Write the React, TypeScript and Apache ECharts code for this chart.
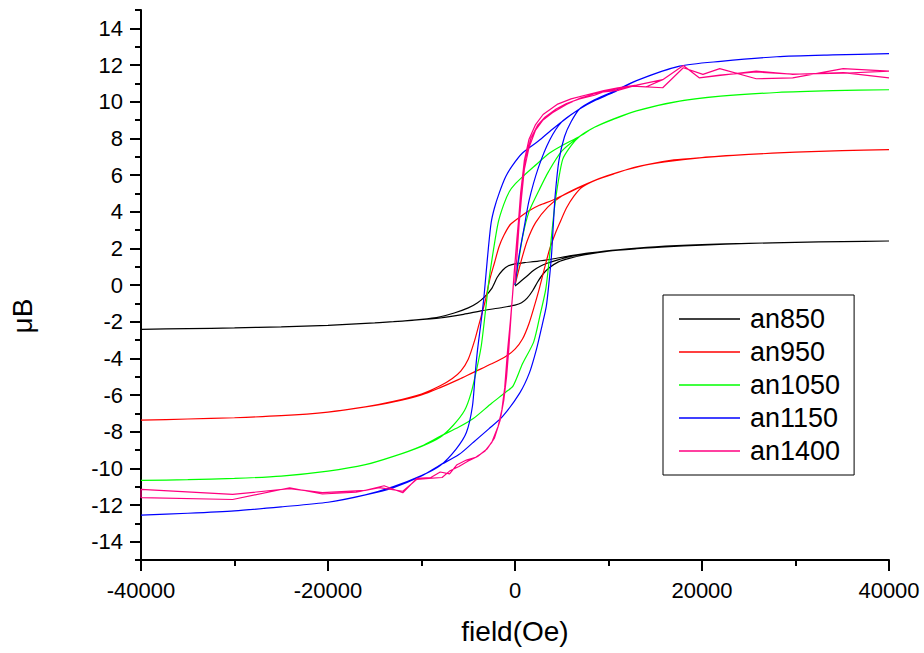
import React, { useEffect, useRef } from "react";
import * as echarts from "echarts";

// ---------- data (field in Oe, moment in μB) ----------
const seriesNames = ["an850", "an950", "an1050", "an1150", "an1400"];
const seriesColors = ["#000000", "#ff0000", "#00ff00", "#0000ff", "#ff0080"];

const xTickValues = [-40000, -20000, 0, 20000, 40000];
const yTickLabels = [-14, -12, -10, -8, -6, -4, -2, 0, 2, 4, 6, 8, 10, 12, 14];
const yMinorTicks = [-15, -13, -11, -9, -7, -5, -3, -1, 1, 3, 5, 7, 9, 11, 13, 15];

// an850
const an850Virgin: number[][] = [
  [0, -0.05], [500, 0.15], [1200, 0.45], [2000, 0.8], [2700, 1.02], [3500, 1.2], [4500, 1.36],
  [5500, 1.5], [7000, 1.65], [9000, 1.8], [12000, 1.95], [16000, 2.08], [20000, 2.18],
  [25000, 2.27], [30000, 2.33], [35000, 2.37], [40000, 2.4],
];
const an850Down: number[][] = [
  [40000, 2.4], [35000, 2.37], [30000, 2.33], [25000, 2.27], [20000, 2.2], [15000, 2.08],
  [11000, 1.92], [8000, 1.75], [6000, 1.6], [4000, 1.42], [2500, 1.3], [1000, 1.22], [0, 1.15],
  [-700, 1.05], [-1300, 0.82], [-1900, 0.42], [-2500, -0.2], [-3200, -0.62], [-4000, -0.97],
  [-5000, -1.25], [-6500, -1.53], [-8000, -1.73], [-10000, -1.87], [-13000, -2.0],
  [-16000, -2.1], [-20000, -2.2], [-25000, -2.28], [-30000, -2.34], [-35000, -2.38], [-40000, -2.42],
];
const an850Up: number[][] = [
  [-40000, -2.42], [-35000, -2.38], [-30000, -2.34], [-25000, -2.28], [-20000, -2.2],
  [-15000, -2.07], [-11000, -1.93], [-8000, -1.8], [-5500, -1.6], [-3500, -1.4], [-1500, -1.24],
  [0, -1.1], [700, -0.97], [1300, -0.72], [1900, -0.3], [2400, 0.15], [3000, 0.6], [3700, 0.95],
  [4600, 1.25], [5800, 1.45], [7500, 1.65], [10000, 1.85], [13000, 1.98], [16000, 2.08],
  [20000, 2.19], [25000, 2.27], [30000, 2.33], [35000, 2.37], [40000, 2.4],
];

// an950
const an950Virgin: number[][] = [
  [0, 0], [600, 1.2], [1300, 2.4], [2200, 3.4], [3500, 4.25], [5000, 4.85], [6700, 5.3],
  [8500, 5.7], [10500, 6.05], [13000, 6.45], [16000, 6.72], [20000, 6.95], [25000, 7.12],
  [30000, 7.25], [35000, 7.33], [40000, 7.38],
];
const an950Down: number[][] = [
  [40000, 7.38], [35000, 7.33], [30000, 7.25], [25000, 7.12], [20000, 6.95], [17000, 6.82],
  [14000, 6.55], [11000, 6.15], [9000, 5.8], [7000, 5.35], [5500, 4.98], [4000, 4.62],
  [2600, 4.35], [1500, 4.05], [500, 3.7], [-500, 3.3], [-1200, 2.7], [-1700, 2.1], [-2200, 1.2],
  [-2700, 0.3], [-3200, -0.9], [-3800, -2.05], [-4300, -3.0], [-5000, -4.05], [-5800, -4.7],
  [-6700, -5.1], [-8000, -5.5], [-10000, -5.95], [-13000, -6.35], [-16000, -6.65],
  [-20000, -6.93], [-25000, -7.13], [-30000, -7.24], [-35000, -7.31], [-40000, -7.37],
];
const an950Up: number[][] = [
  [-40000, -7.37], [-35000, -7.31], [-30000, -7.24], [-25000, -7.13], [-20000, -6.93],
  [-16000, -6.65], [-13000, -6.38], [-10000, -6.0], [-8000, -5.6], [-6000, -5.15],
  [-4500, -4.78], [-2500, -4.3], [-1000, -3.9], [0, -3.5], [800, -2.95], [1500, -2.1],
  [2100, -1.1], [2600, -0.2], [3200, 1.0], [3700, 1.95], [4300, 2.8], [4800, 3.4], [5500, 4.2],
  [6300, 4.85], [7200, 5.35], [9000, 5.8], [11000, 6.15], [14000, 6.55], [17000, 6.82],
  [20000, 6.95], [25000, 7.12], [30000, 7.25], [35000, 7.33], [40000, 7.38],
];

// an1050
const an1050Virgin: number[][] = [
  [0, 0], [300, 1.0], [800, 2.6], [1500, 4.0], [2600, 5.2], [3600, 6.2], [5000, 7.3],
  [6900, 8.1], [8500, 8.6], [10500, 9.05], [13000, 9.5], [17000, 9.98], [22000, 10.3],
  [28000, 10.5], [34000, 10.6], [40000, 10.65],
];
const an1050Down: number[][] = [
  [40000, 10.65], [34000, 10.6], [28000, 10.5], [22000, 10.3], [17600, 10.03], [13000, 9.5],
  [10500, 9.03], [8500, 8.6], [6900, 8.1], [5000, 7.6], [3700, 7.2], [2000, 6.45], [800, 5.9],
  [0, 5.5], [-600, 5.1], [-1200, 4.4], [-1800, 3.4], [-2400, 1.6], [-2800, 0.2], [-3100, -1.15],
  [-3600, -3.3], [-4100, -4.6], [-4700, -5.9], [-5400, -6.85], [-6600, -7.65], [-8000, -8.3],
  [-10000, -8.8], [-13000, -9.35], [-16000, -9.8], [-20000, -10.15], [-25000, -10.42],
  [-30000, -10.55], [-35000, -10.62], [-40000, -10.66],
];
const an1050Up: number[][] = [
  [-40000, -10.66], [-35000, -10.62], [-30000, -10.55], [-25000, -10.42], [-20000, -10.15],
  [-16000, -9.8], [-13000, -9.35], [-10000, -8.78], [-8000, -8.25], [-6000, -7.75],
  [-4500, -7.3], [-2500, -6.45], [-1000, -5.85], [-200, -5.5], [800, -4.3], [2000, -3.1],
  [2700, -1.6], [3300, -0.2], [3700, 1.6], [4050, 3.4], [4400, 4.9], [5100, 6.85], [6000, 7.6],
  [6900, 8.1], [8500, 8.6], [10500, 9.05], [13000, 9.5], [17000, 9.98], [22000, 10.3],
  [28000, 10.5], [34000, 10.6], [40000, 10.65],
];

// an1150
const an1150Virgin: number[][] = [
  [0, 0], [400, 1.5], [1000, 3.2], [1500, 4.6], [2500, 6.4], [3700, 7.9], [5000, 8.9],
  [6900, 9.6], [8500, 10.1], [10500, 10.55], [13000, 11.15], [17600, 11.94], [22000, 12.2],
  [28000, 12.45], [34000, 12.55], [40000, 12.62],
];
const an1150Down: number[][] = [
  [40000, 12.62], [34000, 12.55], [28000, 12.45], [22000, 12.2], [17600, 11.94], [13000, 11.15],
  [10500, 10.5], [8500, 10.05], [6900, 9.6], [5500, 9.1], [4000, 8.5], [2500, 7.85], [800, 7.2],
  [-300, 6.5], [-1000, 5.9], [-1700, 5.0], [-2200, 4.2], [-2550, 3.4], [-2850, 2.0],
  [-3100, 0.6], [-3350, -0.8], [-3650, -2.1], [-4000, -3.5], [-4250, -4.8], [-4550, -6.6],
  [-5200, -8.05], [-6300, -8.95], [-8000, -9.85], [-10000, -10.4], [-13000, -11.0],
  [-16000, -11.45], [-20000, -11.85], [-25000, -12.1], [-30000, -12.32], [-35000, -12.45],
  [-40000, -12.55],
];
const an1150Up: number[][] = [
  [-40000, -12.55], [-35000, -12.45], [-30000, -12.32], [-25000, -12.1], [-20000, -11.85],
  [-16000, -11.45], [-13000, -11.05], [-10000, -10.42], [-8000, -9.82], [-6000, -9.25],
  [-4500, -8.6], [-2800, -7.85], [-1300, -7.15], [500, -5.9], [1550, -4.78], [2300, -3.5],
  [2900, -2.2], [3350, -1.15], [3650, 0.2], [3900, 1.6], [4100, 3.3], [4300, 4.9], [4700, 6.8],
  [5300, 8.1], [6000, 8.9], [6900, 9.6], [8500, 10.1], [10500, 10.55], [13000, 11.15],
  [17600, 11.94], [22000, 12.2], [28000, 12.45], [34000, 12.55], [40000, 12.62],
];

// an1400
const an1400Virgin: number[][] = [
  [0, 0.1], [200, 1.5], [450, 3.4], [700, 4.8], [1000, 6.3], [1500, 7.5], [2200, 8.45],
  [3000, 9.0], [4000, 9.4], [5500, 9.85], [7000, 10.2], [9000, 10.5], [11000, 10.62],
  [12600, 10.85], [15800, 10.76], [18000, 11.85], [20100, 11.49], [21900, 11.8],
  [25800, 11.25], [29700, 11.3], [35100, 11.8], [40000, 11.67],
];
const an1400Down: number[][] = [
  [40000, 11.67], [35100, 11.55], [29700, 11.5], [25800, 11.62], [21900, 11.45], [19700, 11.3],
  [18000, 11.97], [15800, 11.2], [13000, 10.9], [11000, 10.75], [9500, 10.6], [7500, 10.35],
  [6000, 10.15], [4500, 9.85], [3000, 9.3], [2200, 8.75], [1500, 7.95], [1000, 6.8], [600, 5.0],
  [300, 3.0], [0, 1.2], [-250, -0.5], [-500, -2.0], [-800, -3.6], [-1100, -5.6], [-1400, -6.8],
  [-1800, -7.7], [-2500, -8.6], [-3200, -9.05], [-4200, -9.4], [-5200, -9.55], [-6200, -9.8],
  [-7000, -10.3], [-8000, -10.2], [-9000, -10.5], [-10500, -10.55], [-12000, -11.33],
  [-14000, -10.95], [-16000, -11.2], [-20600, -11.33], [-24100, -11.11], [-30200, -11.42],
  [-40000, -11.15],
];
const an1400Up: number[][] = [
  [-40000, -11.6], [-30200, -11.7], [-24100, -11.06], [-20600, -11.4], [-17000, -11.3],
  [-14500, -11.05], [-12000, -11.25], [-10500, -10.6], [-9200, -10.55], [-7800, -10.5],
  [-7000, -10.15], [-6000, -9.9], [-5000, -9.6], [-4000, -9.35], [-3000, -8.95], [-2200, -8.35],
  [-1600, -7.4], [-1200, -6.3], [-900, -5.0], [-650, -3.4], [-400, -1.5], [-100, 0.6],
  [200, 2.5], [500, 4.2], [800, 5.6], [1100, 6.9], [1700, 8.0], [2400, 8.7], [3200, 9.15],
  [4400, 9.6], [5500, 9.9], [6900, 10.15], [8500, 10.35], [9800, 10.6], [11000, 10.7],
  [12600, 10.85], [14000, 10.8], [15800, 11.2], [18000, 11.97], [19700, 11.3], [25800, 11.67],
  [29700, 11.49], [35100, 11.58], [40000, 11.3],
];

const seriesData: number[][][] = [
  [...an850Virgin, ...an850Down, ...an850Up],
  [...an950Virgin, ...an950Down, ...an950Up],
  [...an1050Virgin, ...an1050Down, ...an1050Up],
  [...an1150Virgin, ...an1150Down, ...an1150Up],
  [...an1400Virgin, ...an1400Down, ...an1400Up],
];

const FONT = "'Liberation Sans', Arial, Helvetica, sans-serif";

export default function App() {
  const ref = useRef<HTMLDivElement>(null);

  useEffect(() => {
    if (!ref.current) return;
    const chart = echarts.init(ref.current, undefined, { renderer: "svg" });
    const axisColor = "#000";
    chart.setOption({
      animation: false,
      backgroundColor: "#fff",
      textStyle: { fontFamily: FONT },
      grid: { left: 141, right: 35, top: 10, bottom: 93 },
      legend: {
        orient: "vertical",
        left: 663,
        top: 295,
        data: seriesNames,
        icon: "rect",
        borderColor: "#000",
        borderWidth: 1,
        padding: [10, 14, 10, 16],
        itemWidth: 61,
        itemHeight: 1.4,
        itemGap: 5,
        textStyle: {
          fontSize: 27,
          lineHeight: 28,
          color: "#000",
          fontFamily: FONT,
          padding: [0, 0, 0, 5],
        },
      },
      xAxis: {
        type: "value",
        min: -40000,
        max: 40000,
        interval: 20000,
        name: "field(Oe)",
        nameLocation: "middle",
        nameGap: 57,
        nameTextStyle: { fontSize: 28, color: "#000", fontFamily: FONT },
        axisLine: { show: true, onZero: false, lineStyle: { color: axisColor, width: 2 } },
        axisTick: { show: true, inside: false, length: 11, lineStyle: { color: axisColor, width: 2 } },
        minorTick: { show: true, splitNumber: 2, length: 6, lineStyle: { color: axisColor, width: 2 } },
        splitLine: { show: false },
        axisLabel: {
          fontSize: 22,
          color: "#000",
          margin: 19,
          fontFamily: FONT,
          customValues: xTickValues,
          formatter: (v: number) => String(v),
        },
      },
      yAxis: [
        {
          type: "value",
          min: -15,
          max: 15,
          interval: 1,
          position: "left",
          axisLine: { show: true, onZero: false, lineStyle: { color: axisColor, width: 2 } },
          axisTick: { show: true, length: 6, customValues: yMinorTicks, lineStyle: { color: axisColor, width: 2 } },
          axisLabel: { show: false },
          splitLine: { show: false },
        },
        {
          type: "value",
          min: -15,
          max: 15,
          interval: 1,
          position: "left",
          offset: 0,
          name: "μB",
          nameLocation: "middle",
          nameRotate: 90,
          nameGap: 105,
          nameTextStyle: { fontSize: 28, color: "#000", fontFamily: FONT, padding: [0, 62, 0, 0] },
          axisLine: { show: false, onZero: false },
          axisTick: { show: true, length: 11, customValues: yTickLabels, lineStyle: { color: axisColor, width: 2 } },
          axisLabel: {
            fontSize: 22,
            color: "#000",
            margin: 18,
            fontFamily: FONT,
            customValues: yTickLabels,
            formatter: (v: number) => String(v),
          },
          splitLine: { show: false },
        },
      ],
      series: seriesNames.map((name, i) => ({
        name,
        type: "line",
        yAxisIndex: 0,
        data: seriesData[i],
        symbol: "none",
        showSymbol: false,
        smooth: i === 4 ? false : 0.25,
        lineStyle: { color: seriesColors[i], width: 1.2 },
        itemStyle: { color: seriesColors[i] },
        z: 2 + i,
      })),
    });
    return () => chart.dispose();
  }, []);

  return (
    <div
      ref={ref}
      style={{ position: "fixed", left: 0, top: 0, width: 924, height: 653, background: "#fff" }}
    />
  );
}
